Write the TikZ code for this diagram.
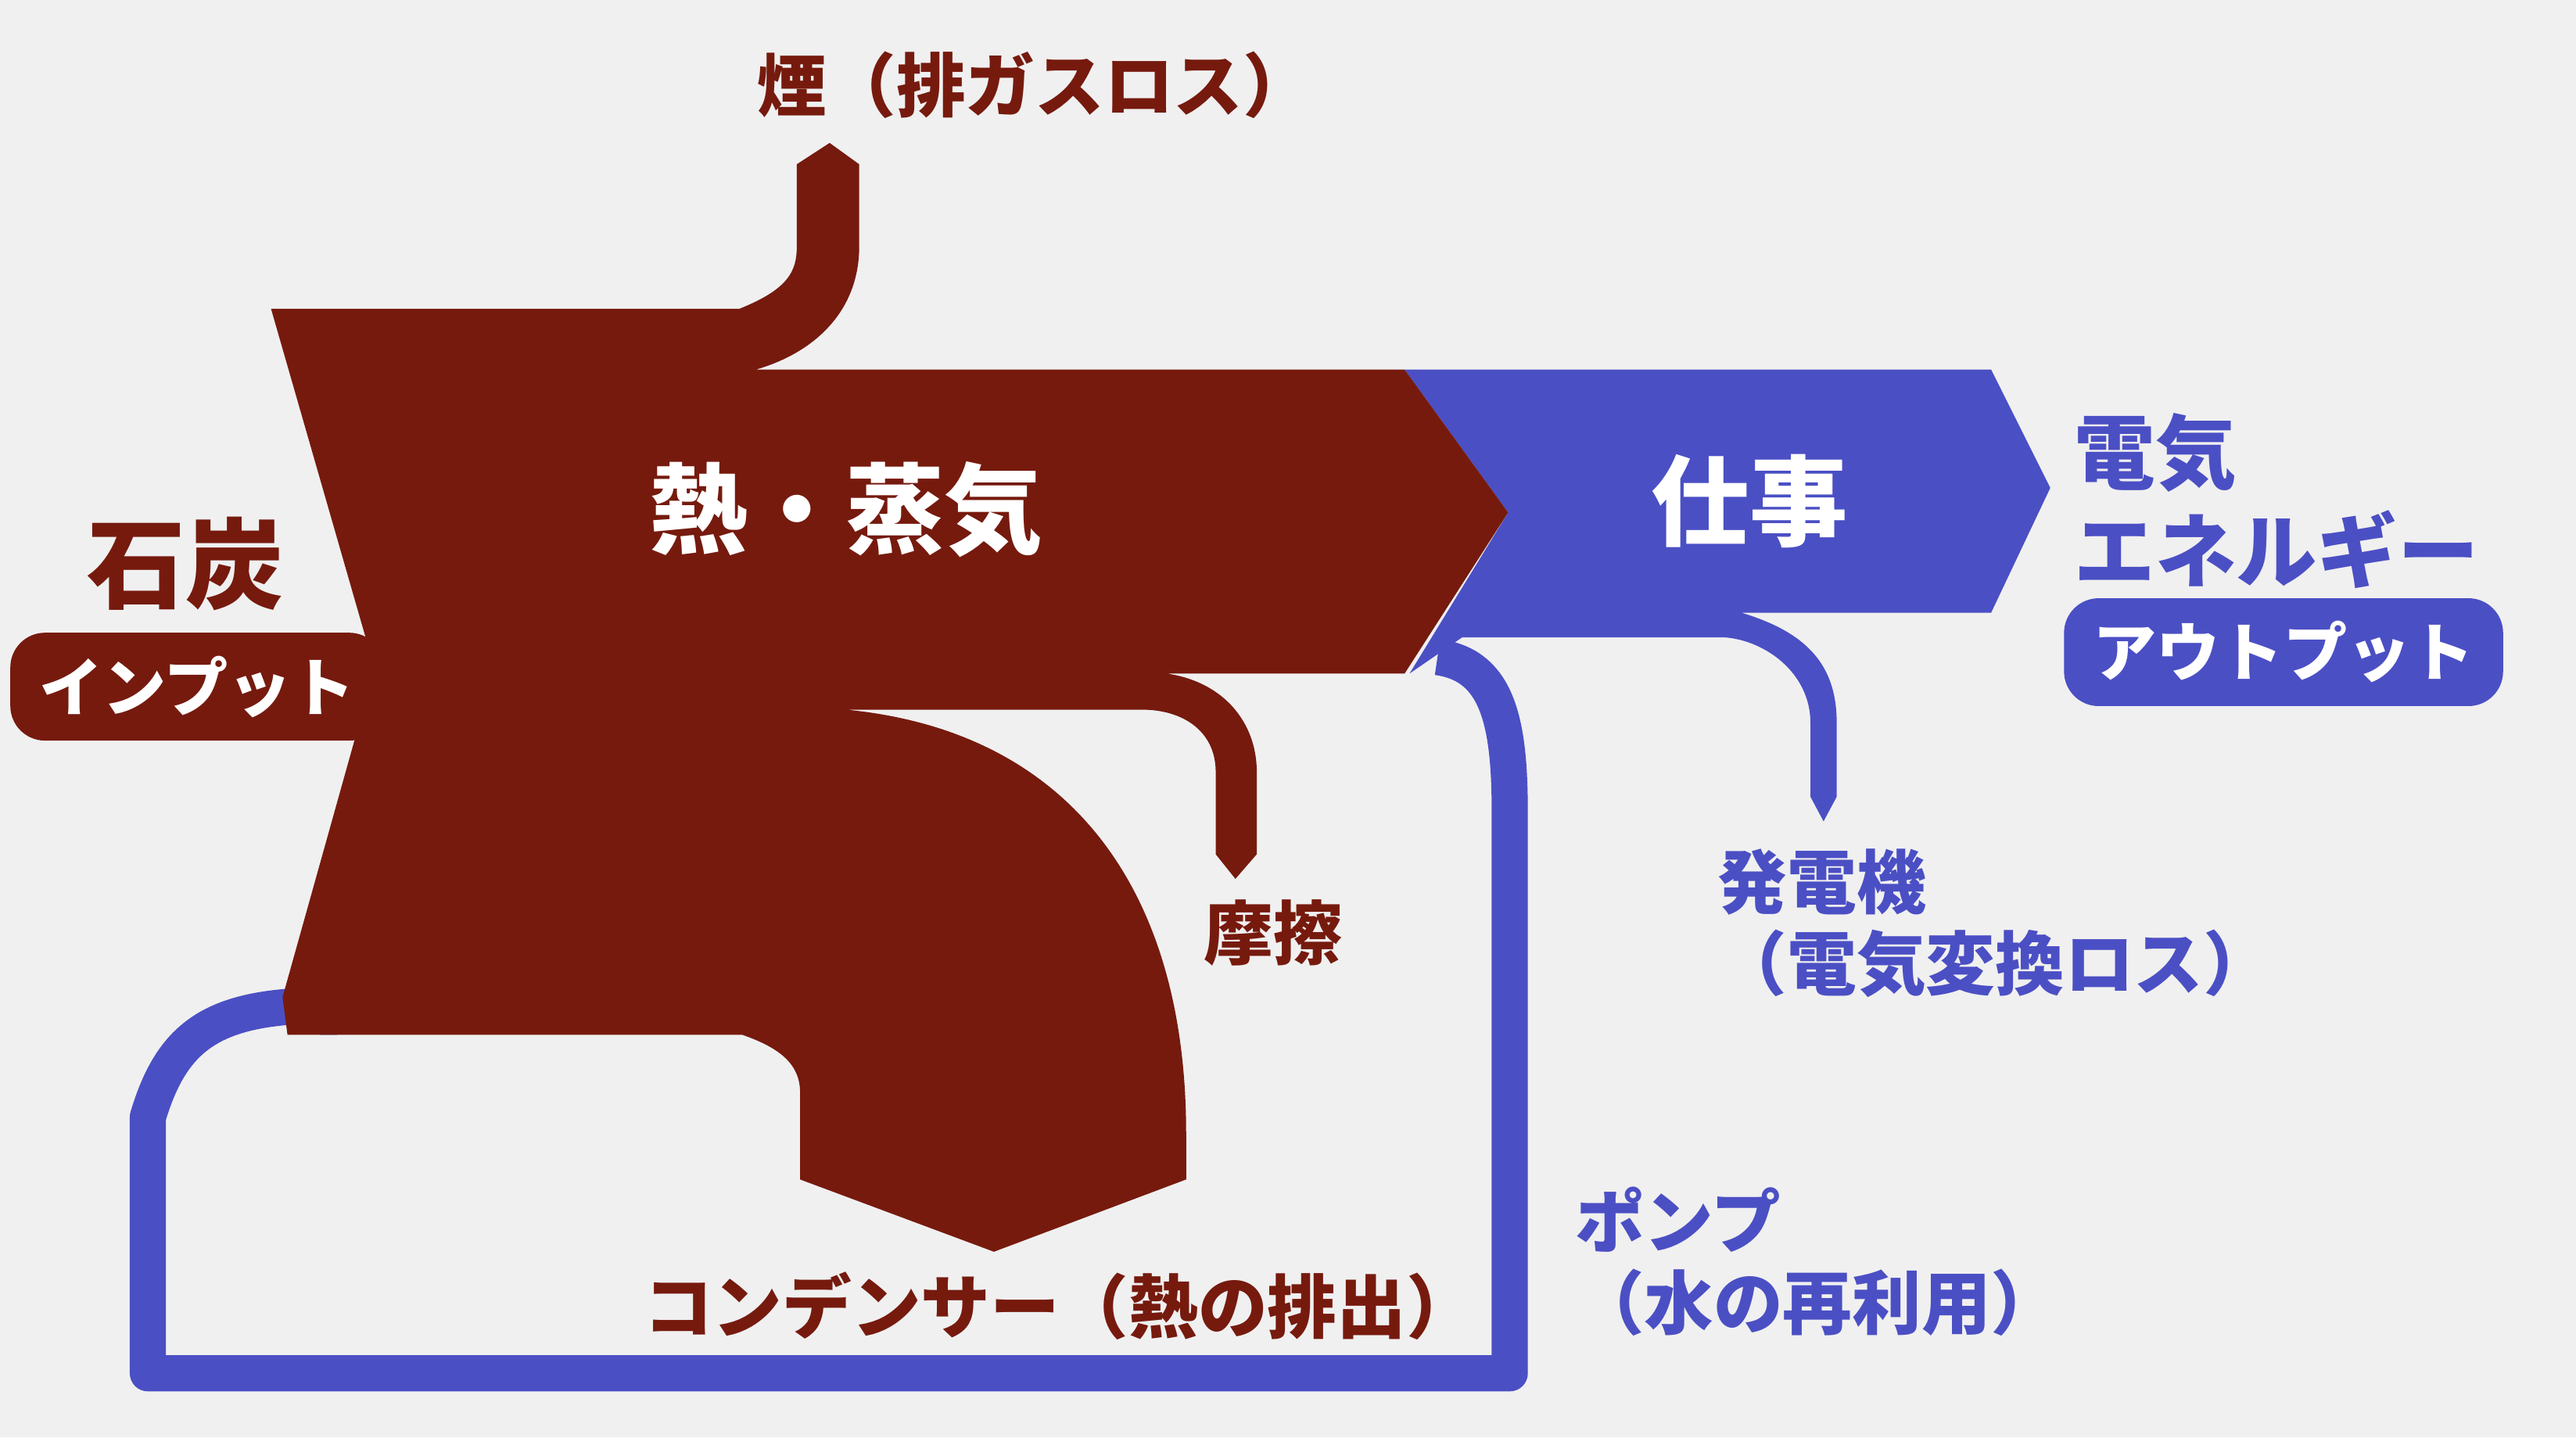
\documentclass[tikz,border=0pt]{standalone}
\usepackage{fontspec}
\setmainfont{Noto Sans CJK JP}
\usepackage{xcolor}
\usepackage{tikz}
\definecolor{netsu}{HTML}{761A0E}
\definecolor{shigoto}{HTML}{4B4FC4}
\definecolor{haikei}{HTML}{F0F0F0}

\begin{document}
\begin{tikzpicture}[x=0.01cm, y=-0.01cm,
  lbl/.style={font=\bfseries\fontsize{12}{14}\selectfont, align=left, inner sep=0pt},
  big/.style={font=\bfseries\fontsize{17}{20}\selectfont, inner sep=0pt},
  tag/.style={font=\bfseries\fontsize{11}{13}\selectfont, text=white, rounded corners=6pt, inner xsep=5pt, inner ysep=4pt}]
% Hintergrund
\fill[haikei] (0,0) rectangle (1568,875);
\useasboundingbox (0,0) rectangle (1568,875);

% Arbeit (blau)
\fill[shigoto] (855,225) -- (1212,225) -- (1248,297) -- (1212,373) -- (1060,373)
  .. controls (1100,385) and (1118,405) .. (1118,440) -- (1118,485) -- (1110,500) -- (1102,485) -- (1102,440)
  .. controls (1102,410) and (1075,390) .. (1050,388) -- (890,388) -- (858,410) -- (918,312) -- cycle;
\draw[shigoto, line width=0.22cm, line join=round]
  (875,400) .. controls (912,405) and (919,440) .. (919,495) -- (919,836) -- (90,836) -- (90,680)
  .. controls (105,630) and (130,612) .. (200,612);
\fill[shigoto] (195,602) -- (210,607) -- (219,618) -- (205,630) -- (195,630) -- cycle;

% Waerme (braun)
\fill[netsu] (165,188) -- (450,188) .. controls (480,176) and (485,165) .. (485,150) -- (485,100) -- (505,87)
  -- (523,100) -- (523,150) .. controls (523,190) and (495,215) .. (460,225) -- (855,225) -- (918,312)
  -- (855,410) -- (710,410) .. controls (745,415) and (765,440) .. (765,470) -- (765,520) -- (752,535)
  -- (740,520) -- (740,470) .. controls (740,445) and (720,432) .. (695,432) -- (515,432)
  .. controls (650,445) and (722,540) .. (722,690) -- (722,718) -- (605,762) -- (487,718) -- (487,665)
  .. controls (487,648) and (475,638) .. (452,630) -- (175,630) -- (172,607) -- (228,407) -- cycle;

% Beschriftung
\node[big, text=white] (jouki) at (515,310) {熱・蒸気};
\node[big, text=white] (work) at (1065,305) {仕事};
\node[big, text=netsu] (coal) at (113,343) {石炭};
\node[tag, fill=netsu] (input) at (120,418) {インプット};
\node[lbl, text=netsu] (smoke) at (630,52) {煙（排ガスロス）};
\node[lbl, text=netsu] (friction) at (775,568) {摩擦};
\node[lbl, text=netsu] (condenser) at (645,795) {コンデンサー（熱の排出）};
\node[lbl, text=shigoto, anchor=west, font=\bfseries\fontsize{14}{17}\selectfont] (denki) at (1262,305) {電気\\エネルギー};
\node[tag, fill=shigoto] (output) at (1390,397) {アウトプット};
\node[lbl, text=shigoto, anchor=west] (generator) at (1045,562) {発電機\\（電気変換ロス）};
\node[lbl, text=shigoto, anchor=west] (pump) at (958,768) {ポンプ\\（水の再利用）};
\end{tikzpicture}
\end{document}
